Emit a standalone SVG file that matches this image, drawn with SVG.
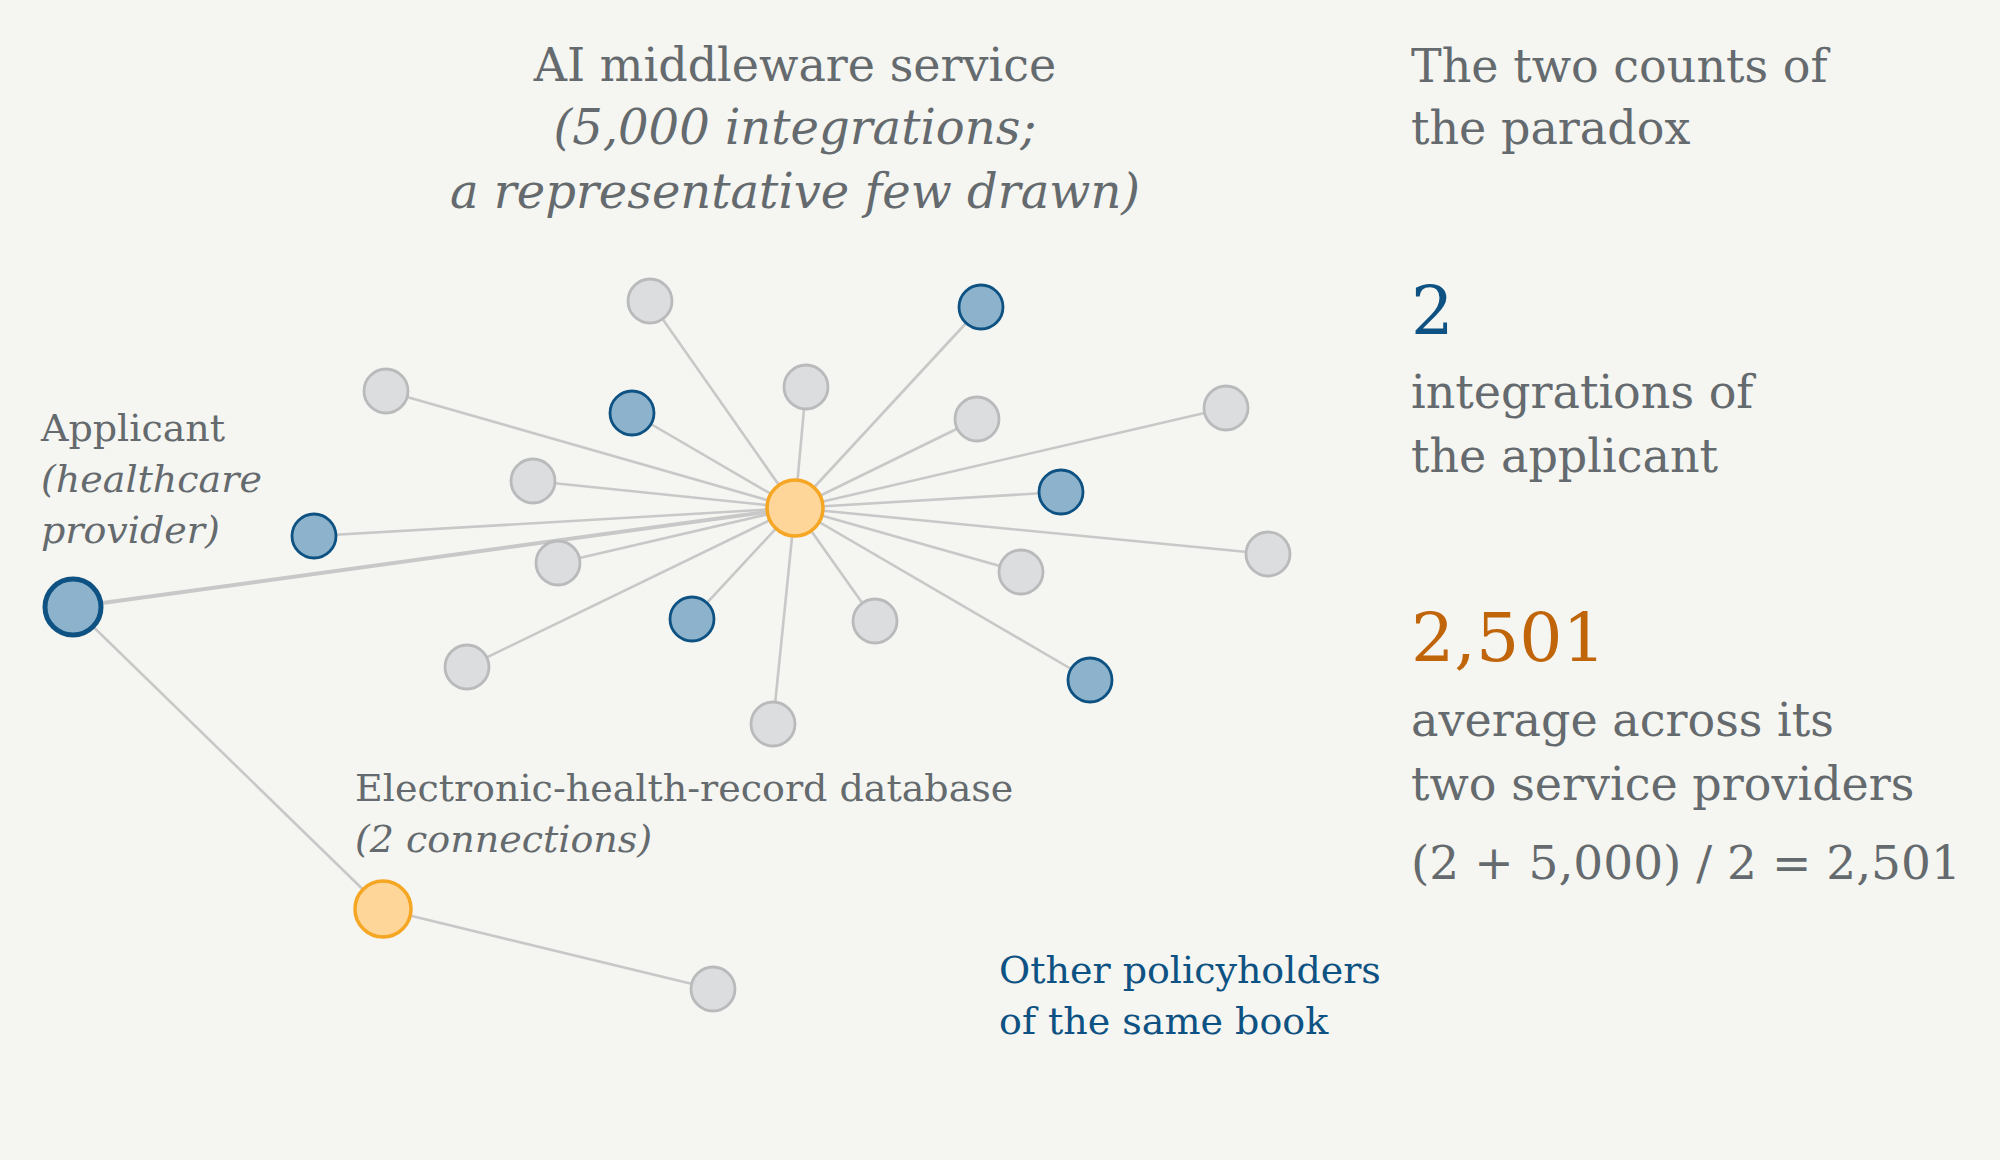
<svg xmlns="http://www.w3.org/2000/svg" width="2000" height="1160" viewBox="0 0 2000 1160">
<style>
.t{font-family:"DejaVu Serif","Liberation Serif",serif;fill:#646a6d}
.i{font-style:italic}
.e{stroke:#c8c8c8;stroke-width:2.6;fill:none}
.g{fill:#dcdddf;stroke:#b9babc;stroke-width:2.8}
.b{fill:#8db3cc;stroke:#0d5282;stroke-width:2.8}
.o{fill:#fed699;stroke:#f5a623;stroke-width:3.5}
</style>
<rect width="2000" height="1160" fill="#f5f5f1"/>
<g id="connectors">
<line class="e" x1="795" y1="508" x2="650" y2="301"/>
<line class="e" x1="795" y1="508" x2="981" y2="307"/>
<line class="e" x1="795" y1="508" x2="386" y2="391"/>
<line class="e" x1="795" y1="508" x2="806" y2="387"/>
<line class="e" x1="795" y1="508" x2="632" y2="413"/>
<line class="e" x1="795" y1="508" x2="977" y2="419"/>
<line class="e" x1="795" y1="508" x2="1226" y2="408"/>
<line class="e" x1="795" y1="508" x2="533" y2="481"/>
<line class="e" x1="795" y1="508" x2="1061" y2="492"/>
<line class="e" x1="795" y1="508" x2="314" y2="536"/>
<line class="e" x1="795" y1="508" x2="1268" y2="554"/>
<line class="e" x1="795" y1="508" x2="558" y2="563"/>
<line class="e" x1="795" y1="508" x2="1021" y2="572"/>
<line class="e" x1="795" y1="508" x2="692" y2="619"/>
<line class="e" x1="795" y1="508" x2="875" y2="621"/>
<line class="e" x1="795" y1="508" x2="467" y2="667"/>
<line class="e" x1="795" y1="508" x2="1090" y2="680"/>
<line class="e" x1="795" y1="508" x2="773" y2="724"/>
<line class="e" x1="795" y1="508" x2="73" y2="607" style="stroke-width:4"/>
<line class="e" x1="73" y1="607" x2="383" y2="909"/>
<line class="e" x1="383" y1="909" x2="713" y2="989"/>
</g>
<g id="n1"><circle class="g" cx="650" cy="301" r="22"/></g>
<g id="n2"><circle class="b" cx="981" cy="307" r="22"/></g>
<g id="n3"><circle class="g" cx="386" cy="391" r="22"/></g>
<g id="n4"><circle class="g" cx="806" cy="387" r="22"/></g>
<g id="n5"><circle class="b" cx="632" cy="413" r="22"/></g>
<g id="n6"><circle class="g" cx="977" cy="419" r="22"/></g>
<g id="n7"><circle class="g" cx="1226" cy="408" r="22"/></g>
<g id="n8"><circle class="g" cx="533" cy="481" r="22"/></g>
<g id="n9"><circle class="b" cx="1061" cy="492" r="22"/></g>
<g id="n10"><circle class="b" cx="314" cy="536" r="22"/></g>
<g id="n11"><circle class="g" cx="1268" cy="554" r="22"/></g>
<g id="n12"><circle class="g" cx="558" cy="563" r="22"/></g>
<g id="n13"><circle class="g" cx="1021" cy="572" r="22"/></g>
<g id="n14"><circle class="b" cx="692" cy="619" r="22"/></g>
<g id="n15"><circle class="g" cx="875" cy="621" r="22"/></g>
<g id="n16"><circle class="g" cx="467" cy="667" r="22"/></g>
<g id="n17"><circle class="b" cx="1090" cy="680" r="22"/></g>
<g id="n18"><circle class="g" cx="773" cy="724" r="22"/></g>
<g id="hub"><circle class="o" cx="795" cy="508" r="28"/></g>
<g id="applicant"><circle class="b" cx="73" cy="607" r="28" style="stroke-width:5"/></g>
<g id="ehr"><circle class="o" cx="383" cy="909" r="28"/></g>
<g id="other"><circle class="g" cx="713" cy="989" r="22"/></g>
<g id="title">
<text class="t" x="795" y="81" font-size="46" text-anchor="middle">AI middleware service</text>
<text class="t i" x="795" y="144" font-size="48" text-anchor="middle">(5,000 integrations;</text>
<text class="t i" x="795" y="208" font-size="48" text-anchor="middle">a representative few drawn)</text>
</g>
<g id="applicant-label">
<text class="t" x="41" y="441" font-size="38">Applicant</text>
<text class="t i" x="41" y="492" font-size="38">(healthcare</text>
<text class="t i" x="41" y="543" font-size="38">provider)</text>
</g>
<g id="ehr-label">
<text class="t" x="355" y="801" font-size="38">Electronic-health-record database</text>
<text class="t i" x="355" y="852" font-size="38">(2 connections)</text>
</g>
<g id="other-label">
<text class="t" x="999" y="983" font-size="38" style="fill:#0d5282">Other policyholders</text>
<text class="t" x="999" y="1034" font-size="38" style="fill:#0d5282">of the same book</text>
</g>
<g id="counts">
<text class="t" x="1411" y="82" font-size="46">The two counts of</text>
<text class="t" x="1411" y="144" font-size="46">the paradox</text>
<text class="t" x="1411" y="334" font-size="67" style="fill:#0d5282">2</text>
<text class="t" x="1411" y="408" font-size="46">integrations of</text>
<text class="t" x="1411" y="472" font-size="46">the applicant</text>
<text class="t" x="1411" y="661" font-size="68" style="fill:#c0650a">2,501</text>
<text class="t" x="1411" y="736" font-size="46">average across its</text>
<text class="t" x="1411" y="800" font-size="46">two service providers</text>
<text class="t" x="1411" y="879" font-size="47">(2 + 5,000) / 2 = 2,501</text>
</g>
</svg>
